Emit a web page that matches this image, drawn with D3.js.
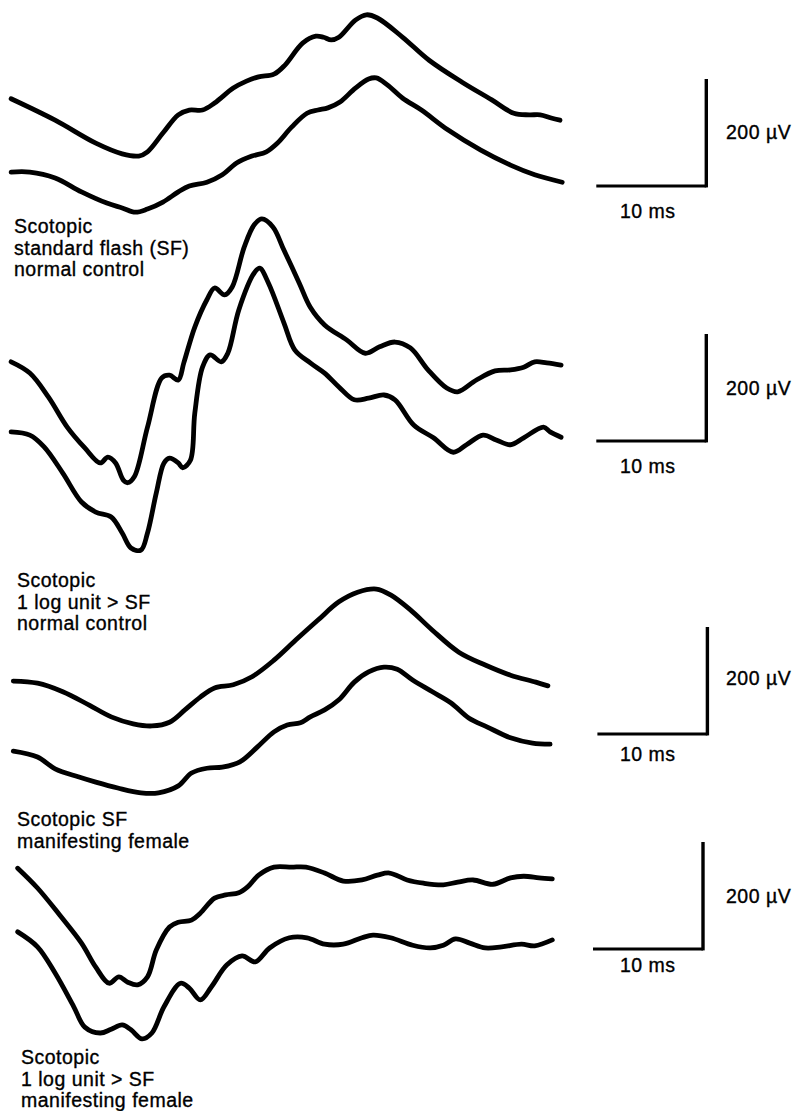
<!DOCTYPE html>
<html>
<head>
<meta charset="utf-8">
<script src="https://cdn.jsdelivr.net/npm/d3@7"></script>
<style>
  html, body { margin: 0; padding: 0; background: #fff; }
  svg { display: block; }
  text { font-family: "Liberation Sans", Arial, sans-serif; font-size: 19.5px; letter-spacing: 0.5px; fill: #000; stroke: #000; stroke-width: 0.35px; }
</style>
</head>
<body>
<div id="container"></div>
<script>
// time in ms, amplitude in µV (0 = level of the scale bar's horizontal arm)

// Panel 1: scotopic standard flash, normal control
const p1UpperT = [0.1, 4.1, 7.8, 10.2, 11.7, 12.5, 13.9, 15.3, 16.3, 17.5, 18.6, 20.3, 21.5, 22.6, 24.0, 25.0, 26.6, 27.8, 28.5, 29.2, 29.9, 31.4, 32.4, 33.4, 35.7, 38.1, 41.1, 43.8, 45.8, 47.2, 48.2, 49.2, 50.0];
const p1UpperV = [163, 123, 80, 60, 56, 64, 99, 133, 142, 142, 155, 183, 196, 204, 209, 226, 267, 280, 278, 273, 278, 310, 320, 314, 278, 235, 194, 161, 136, 133, 133, 127, 123];
const p1LowerT = [0.1, 1.8, 4.1, 6.5, 8.8, 10.2, 11.4, 12.5, 13.9, 15.3, 16.3, 17.9, 19.3, 20.6, 22.0, 23.3, 24.3, 25.6, 27.0, 28.0, 28.9, 30.0, 31.4, 32.6, 33.3, 34.3, 35.7, 37.4, 39.8, 42.8, 45.5, 47.7, 50.2];
const p1LowerV = [26, 26, 15, -11, -32, -41, -49, -43, -30, -11, 0, 7, 21, 43, 56, 64, 80, 110, 136, 142, 146, 157, 183, 200, 202, 189, 164, 142, 105, 67, 39, 21, 7];

// Panel 2: scotopic 1 log unit > SF, normal control
const p2UpperT = [0.1, 1.8, 3.5, 5.2, 6.8, 8.2, 8.9, 9.6, 10.3, 10.7, 11.3, 12.5, 13.8, 14.5, 15.3, 15.8, 16.8, 17.9, 18.6, 19.5, 20.2, 21.3, 22.2, 22.9, 23.9, 24.9, 26.3, 27.3, 28.6, 30.6, 32.3, 33.6, 35.0, 36.4, 38.0, 39.7, 40.7, 42.4, 44.1, 45.5, 46.7, 47.7, 48.8, 50.1];
const p2UpperV = [148, 127, 82, 26, -13, -41, -30, -41, -73, -78, -67, 26, 118, 123, 114, 146, 213, 264, 286, 273, 288, 363, 404, 415, 400, 357, 295, 250, 217, 189, 164, 176, 185, 174, 133, 99, 92, 114, 131, 133, 138, 148, 146, 142];
const p2LowerT = [0.1, 1.8, 3.1, 4.8, 6.5, 7.8, 9.2, 10.2, 11.0, 11.9, 12.5, 13.3, 14.0, 14.5, 15.3, 15.7, 16.4, 16.8, 17.5, 18.2, 19.2, 19.8, 20.8, 22.2, 22.7, 23.5, 24.9, 25.9, 27.3, 28.6, 29.9, 31.3, 32.6, 34.0, 35.0, 36.7, 38.5, 40.3, 41.5, 43.0, 44.2, 45.5, 46.7, 48.5, 49.1, 50.1];
const p2LowerV = [17, 11, -11, -60, -114, -133, -142, -172, -200, -204, -172, -97, -41, -32, -41, -50, -36, 52, 138, 161, 148, 164, 245, 314, 323, 295, 221, 170, 146, 127, 101, 77, 80, 86, 77, 30, 6, -21, -7, 11, 2, -7, 6, 26, 17, 7];

// Panel 3: scotopic SF, manifesting female
const p3UpperT = [0.3, 2.5, 4.8, 7.2, 9.2, 11.2, 12.9, 14.5, 15.9, 17.3, 18.6, 20.3, 22.0, 24.0, 26.0, 28.0, 29.9, 31.6, 33.3, 34.6, 36.4, 38.4, 40.8, 43.2, 45.5, 47.8, 48.9];
const p3UpperV = [99, 95, 79, 54, 32, 19, 15, 22, 45, 69, 86, 92, 107, 138, 176, 213, 247, 265, 271, 260, 232, 194, 153, 129, 110, 97, 90];
const p3LowerT = [0.3, 2.5, 4.1, 6.2, 7.8, 9.8, 11.9, 13.5, 15.3, 16.5, 17.9, 19.3, 20.9, 22.5, 24.0, 25.2, 26.4, 27.3, 28.6, 29.9, 31.3, 32.6, 34.0, 35.2, 36.6, 38.4, 40.1, 41.7, 43.4, 45.5, 47.5, 49.1];
const p3LowerV = [-32, -43, -65, -80, -90, -101, -110, -110, -97, -73, -64, -62, -52, -24, 4, 17, 21, 32, 45, 64, 97, 116, 125, 121, 101, 79, 58, 30, 13, -7, -17, -19];

// Panel 4: scotopic 1 log unit > SF, manifesting female
const p4UpperT = [0.7, 2.5, 4.5, 6.5, 7.8, 9.0, 9.9, 10.7, 11.6, 12.5, 13.3, 14.5, 15.3, 16.5, 17.3, 18.6, 19.6, 20.8, 21.6, 22.6, 24.0, 25.6, 26.9, 28.6, 30.3, 32.0, 33.4, 34.5, 36.1, 37.6, 39.4, 40.7, 42.1, 43.9, 45.5, 46.7, 48.1, 49.3];
const p4UpperV = [151, 114, 64, 11, -34, -64, -52, -62, -67, -52, -2, 41, 50, 54, 67, 95, 101, 105, 116, 138, 153, 153, 153, 142, 127, 129, 138, 142, 129, 123, 120, 125, 129, 121, 133, 136, 133, 131];
const p4LowerT = [0.7, 2.5, 4.1, 5.8, 6.8, 8.2, 9.2, 10.2, 11.0, 12.0, 12.9, 14.0, 15.5, 16.3, 17.3, 18.3, 19.7, 21.1, 22.3, 23.6, 25.4, 27.0, 28.6, 30.3, 32.0, 33.0, 34.6, 36.6, 38.2, 39.4, 40.5, 41.8, 43.2, 44.7, 46.5, 47.7, 49.3];
const p4LowerV = [32, 4, -45, -108, -146, -157, -150, -142, -151, -168, -157, -108, -64, -73, -95, -71, -30, -13, -24, 2, 21, 21, 9, 9, 21, 26, 21, 7, 2, 7, 19, 11, 2, 4, 9, 6, 17];

// panel captions
const captions = [
  ['Scotopic', 'standard flash (SF)', 'normal control'],
  ['Scotopic', '1 log unit > SF', 'normal control'],
  ['Scotopic SF', 'manifesting female'],
  ['Scotopic', '1 log unit > SF', 'manifesting female']
];

// calibration bars
const barTime = 10;     // ms
const barVolt = 200;    // µV
const barLabelT = '10 ms';
const barLabelV = '200 \u00b5V';

const width = 795;
const height = 1111;

const svg = d3.select('#container')
  .append('svg')
  .attr('width', width)
  .attr('height', height);

const x = d3.scaleLinear().domain([0, 50]).range([10, 560]);

// layout of each panel: baseline of the bar, bar corner time, caption placement
const panels = [
  { base: 186, corner: 63.3, cap: { x: 14, y: 233 }, vLab: 139, tLab: 218, traces: [[p1UpperT, p1UpperV], [p1LowerT, p1LowerV]] },
  { base: 441, corner: 63.3, cap: { x: 17, y: 587 }, vLab: 395, tLab: 473, traces: [[p2UpperT, p2UpperV], [p2LowerT, p2LowerV]] },
  { base: 734, corner: 63.4, cap: { x: 17, y: 826 }, vLab: 685, tLab: 761, traces: [[p3UpperT, p3UpperV], [p3LowerT, p3LowerV]] },
  { base: 949, corner: 63.0, cap: { x: 21, y: 1064 }, vLab: 903, tLab: 972, traces: [[p4UpperT, p4UpperV], [p4LowerT, p4LowerV]] }
];

panels.forEach((p, i) => {
  const y = d3.scaleLinear().domain([0, barVolt]).range([p.base, p.base - 107]);

  const line = d3.line()
    .x(d => x(d[0]))
    .y(d => y(d[1]))
    .curve(d3.curveCatmullRom.alpha(0.5));

  const g = svg.append('g').attr('class', 'panel');

  // traces
  p.traces.forEach(tr => {
    const pts = tr[0].map((t, k) => [t, tr[1][k]]);
    g.append('path')
      .datum(pts)
      .attr('d', line)
      .attr('fill', 'none')
      .attr('stroke', '#000')
      .attr('stroke-width', 4.8)
      .attr('stroke-linecap', 'round')
      .attr('stroke-linejoin', 'round');
  });

  // calibration bars
  g.append('line')
    .attr('x1', x(p.corner - barTime)).attr('x2', x(p.corner))
    .attr('y1', y(0)).attr('y2', y(0))
    .attr('stroke', '#000').attr('stroke-width', 2.8);
  g.append('line')
    .attr('x1', x(p.corner)).attr('x2', x(p.corner))
    .attr('y1', y(0) + 1.4).attr('y2', y(barVolt))
    .attr('stroke', '#000').attr('stroke-width', 3.4);

  g.append('text')
    .attr('x', 726).attr('y', p.vLab)
    .text(barLabelV);
  g.append('text')
    .attr('x', 620).attr('y', p.tLab)
    .text(barLabelT);

  // caption
  const cap = g.append('text')
    .attr('x', p.cap.x).attr('y', p.cap.y);
  captions[i].forEach((s, k) => {
    cap.append('tspan')
      .attr('x', p.cap.x)
      .attr('dy', k === 0 ? 0 : 21.7)
      .text(s);
  });
});
</script>
</body>
</html>
